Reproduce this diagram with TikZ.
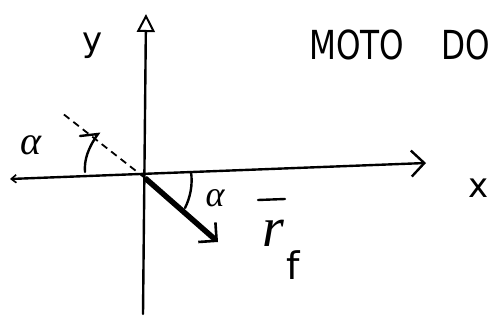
\documentclass[tikz,border=0pt]{standalone}
\usepackage{fontspec}
\setsansfont{DejaVu Sans}
\newfontfamily\handit{Liberation Serif}
\usetikzlibrary{arrows.meta}
\begin{document}
\begin{tikzpicture}[x=1pt,y=-1pt,
  axis/.style={line width=2.4pt,line cap=round},
  vec/.style={line width=5.5pt,-{Straight Barb[length=13pt,width=26pt,line width=2.6pt]}},
  lbl/.style={inner sep=0pt},
  ttl/.style={inner sep=0pt,anchor=base west,xscale=0.78,font=\sffamily\fontsize{40}{40}\selectfont}]
\useasboundingbox (0,0) rectangle (489,320);
\clip (0,0) rectangle (489,320);
\fill[white] (0,0) rectangle (489,320);
\coordinate (O) at (145,178);
\coordinate (xl) at (10,179);
\coordinate (xr) at (426,163);
\coordinate (yb) at (143,314);
\coordinate (yt) at (146,14);
\coordinate (D) at (62,113);
\coordinate (V) at (218,242);
% axes
\draw[axis,{Straight Barb[length=5pt,width=8pt,line width=1.6pt]}-{Straight Barb[length=13pt,width=26pt,line width=2.4pt]}] (xl) -- (xr);
\draw[axis,-{Triangle[open,length=18pt,width=18pt,line width=2pt]}] (yb) -- (yt);
% dashed line
\draw[line width=1.8pt,dash pattern=on 7pt off 5pt] (O) -- (D);
% angle marks
\draw[axis] (80,136) -- (98,134) .. controls (88,148) and (84,160) .. (85,172);
\draw[axis] (191,172) .. controls (193,185) and (190,198) .. (185,208);
% vector
\draw[vec] (O) -- (V);
% labels
\node[lbl,font=\handit\itshape\fontsize{40}{40}\selectfont] (a1) at (31,145) {α};
\node[lbl,font=\handit\itshape\fontsize{36}{36}\selectfont] (a2) at (215,198) {α};
\node[lbl,font=\sffamily\fontsize{34}{34}\selectfont] (ylab) at (93,46) {y};
\node[lbl,font=\sffamily\fontsize{34}{34}\selectfont] (xlab) at (479,188) {x};
\node[lbl,font=\handit\itshape\fontsize{56}{56}\selectfont] (r) at (273,233) {r};
\node[lbl,font=\sffamily\fontsize{38}{38}\selectfont] (f) at (293,265) {f};
\coordinate (b1) at (258,200);
\coordinate (b2) at (285,199);
\draw[axis] (b1) -- (b2);
\node[ttl] (title) at (309,60) {MOTO};
\node[ttl] (title2) at (441,60) {DO};
\end{tikzpicture}
\end{document}
